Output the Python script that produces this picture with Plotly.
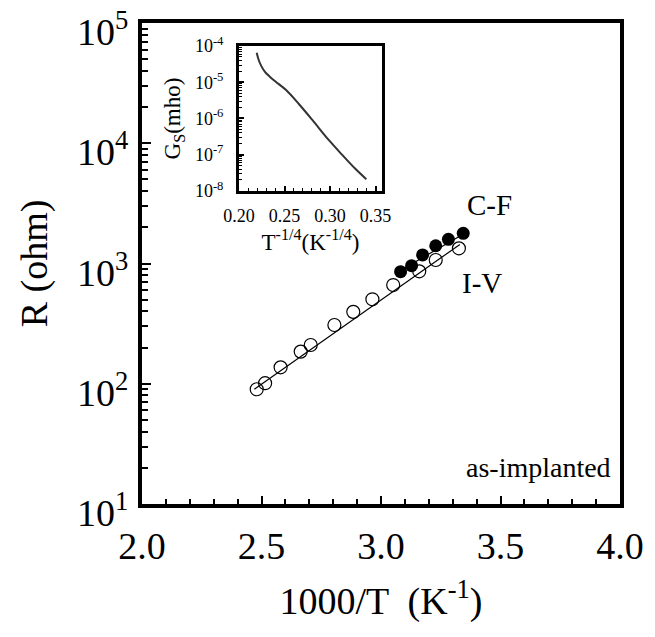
import plotly.graph_objects as go

# ---- main data ----
iv_x = [2.480, 2.515, 2.580, 2.664, 2.706, 2.805, 2.884, 2.964, 3.051, 3.160, 3.229, 3.326]
iv_r = [90, 101, 137, 185, 210, 308, 396, 504, 662, 861, 1069, 1337]
cf_x = [3.082, 3.128, 3.174, 3.229, 3.282, 3.344]
cf_r = [855, 960, 1178, 1405, 1588, 1782]
iv_fit_x = [2.47, 3.33]
iv_fit_r = [90, 1440]
cf_fit_x = [3.07, 3.36]
cf_fit_r = [850, 1830]

# ---- inset data ----
ins_x = [0.2194, 0.2215, 0.2245, 0.2285, 0.2335, 0.2400, 0.2517, 0.2662, 0.2805, 0.2985, 0.3128, 0.3272, 0.3398]
ins_g = [6.5e-5, 4.2e-5, 2.8e-5, 1.95e-5, 1.45e-5, 1.05e-5, 6.1e-6, 2.43e-6, 9.1e-7, 2.55e-7, 1.02e-7, 4.2e-8, 2.1e-8]

x_ticks = [2.0, 2.5, 3.0, 3.5, 4.0]
y_ticks = [10, 100, 1000, 10000, 100000]
y_ticktext = ["10<sup>1</sup>", "10<sup>2</sup>", "10<sup>3</sup>", "10<sup>4</sup>", "10<sup>5</sup>"]
ins_x_ticks = [0.20, 0.25, 0.30, 0.35]
ins_y_ticks = [1e-8, 1e-7, 1e-6, 1e-5, 1e-4]
ins_y_ticktext = ["10<sup>-8</sup>", "10<sup>-7</sup>", "10<sup>-6</sup>", "10<sup>-5</sup>", "10<sup>-4</sup>"]

FONT = "Liberation Serif"

fig = go.Figure()
fig.add_trace(go.Scatter(x=iv_fit_x, y=iv_fit_r, mode="lines", line=dict(color="black", width=1.2), showlegend=False))
fig.add_trace(go.Scatter(x=cf_fit_x, y=cf_fit_r, mode="lines", line=dict(color="black", width=1.2), showlegend=False))
fig.add_trace(go.Scatter(x=iv_x, y=iv_r, mode="markers",
                         marker=dict(symbol="circle-open", size=13, color="black", line=dict(width=1.2)),
                         showlegend=False))
fig.add_trace(go.Scatter(x=cf_x, y=cf_r, mode="markers",
                         marker=dict(symbol="circle", size=13, color="black"), showlegend=False))
fig.add_trace(go.Scatter(x=ins_x, y=ins_g, mode="lines", xaxis="x2", yaxis="y2",
                         line=dict(color="#333", width=2, shape="spline"), showlegend=False))

# y tick labels of the main axis, placed at the axis' own tick values (slightly lowered as in the original)
y_label_annotations = [
    dict(text=t, x=0, y=v, xref="paper", yref="y", xanchor="right", yanchor="middle",
         xshift=-12, yshift=-6, showarrow=False, font=dict(size=38))
    for v, t in zip([1, 2, 3, 4, 5], y_ticktext)
]

fig.update_layout(
    width=655, height=637,
    margin=dict(l=142, r=35, t=23, b=133),
    paper_bgcolor="white", plot_bgcolor="white",
    font=dict(family=FONT, color="black", size=38),
    xaxis=dict(range=[2, 4], tickvals=x_ticks, tickformat=".1f", automargin=False,
               ticklabeloverflow="allow", ticklabelstandoff=5,
               ticks="inside", ticklen=8, tickwidth=2, tickcolor="black",
               minor=dict(dtick=0.1, ticks="inside", ticklen=5, tickwidth=1.5, tickcolor="black"),
               showline=True, linewidth=4, linecolor="black", mirror=True,
               showgrid=False, zeroline=False,
               title=dict(text="1000/T  (K<sup>-1</sup>)", font=dict(size=38), standoff=23),
               domain=[0, 1]),
    yaxis=dict(type="log", range=[0.9999, 5.0001], tickvals=y_ticks, showticklabels=False, automargin=False,
               ticks="inside", ticklen=9, tickwidth=2, tickcolor="black",
               minor=dict(dtick="D1", ticks="inside", ticklen=6, tickwidth=1.5, tickcolor="black"),
               showline=True, linewidth=4, linecolor="black", mirror=True,
               showgrid=False, zeroline=False,
               title=dict(text="R (ohm)", font=dict(size=38), standoff=80),
               domain=[0, 1]),
    xaxis2=dict(range=[0.2, 0.357], tickvals=ins_x_ticks, tickformat=".2f",
                anchor="y2", domain=[0.203, 0.502], automargin=False, ticklabeloverflow="allow",
                ticks="inside", ticklen=5, tickwidth=2, tickcolor="black", ticklabelstandoff=7,
                minor=dict(dtick=0.01, ticks="inside", ticklen=3, tickwidth=1, tickcolor="black"),
                showline=True, linewidth=3, linecolor="black", mirror=True,
                showgrid=False, zeroline=False, tickfont=dict(size=18),
                title=dict(text="T<sup>-1/4</sup>(K<sup>-1/4</sup>)", font=dict(size=23), standoff=6)),
    yaxis2=dict(type="log", range=[-8.0001, -3.9999], tickvals=ins_y_ticks, ticktext=ins_y_ticktext,
                anchor="x2", domain=[0.651, 0.952], automargin=False, ticklabeloverflow="allow",
                ticks="inside", ticklen=5, tickwidth=2, tickcolor="black", ticklabelstandoff=9,
                minor=dict(dtick="D1", ticks="inside", ticklen=3, tickwidth=1, tickcolor="black"),
                showline=True, linewidth=3, linecolor="black", mirror=True,
                showgrid=False, zeroline=False, tickfont=dict(size=18),
                title=dict(text="G<sub>S</sub>(mho)", font=dict(size=23), standoff=8)),
    annotations=y_label_annotations + [
        dict(text="C-F", x=3.452, y=3.486, xref="x", yref="y", showarrow=False, font=dict(size=29)),
        dict(text="I-V", x=3.423, y=2.838, xref="x", yref="y", showarrow=False, font=dict(size=29)),
        dict(text="as-implanted", x=0.985, y=0.075, xref="paper", yref="paper", xanchor="right",
             yanchor="middle", showarrow=False, font=dict(size=28)),
    ],
)

fig.write_html("out.html", config={"displayModeBar": False},
               post_script="document.body.style.margin='0';document.body.style.overflow='hidden';")
